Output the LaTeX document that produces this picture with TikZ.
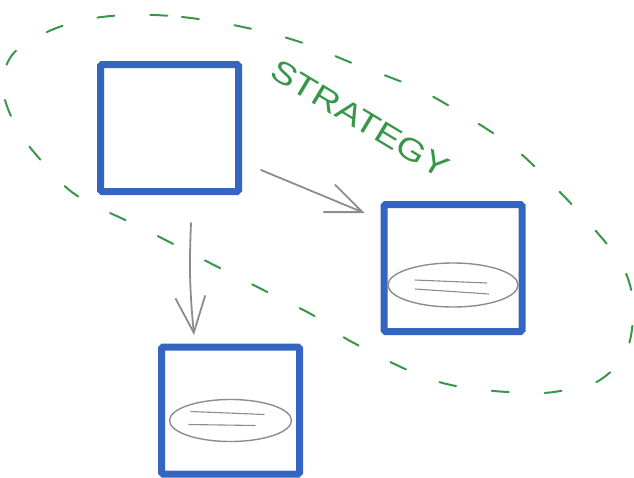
\documentclass[tikz,border=0pt]{standalone}
\usepackage{fontspec}
\newfontfamily\sketchfont{Liberation Sans}
\usetikzlibrary{arrows.meta}

\definecolor{boxblue}{RGB}{52,101,192}
\definecolor{sketchgray}{RGB}{140,140,140}
\definecolor{groupgreen}{RGB}{56,150,72}

\begin{document}
\begin{tikzpicture}[x=1pt, y=-1pt,
	box/.style={draw=boxblue, line width=7pt, rectangle, rounded corners=1.5pt, minimum width=138pt, minimum height=127pt, inner sep=0pt},
	flow/.style={draw=sketchgray, line width=1.8pt, line cap=round, -{Straight Barb[length=36pt,width=30pt]}},
	blob/.style={draw=sketchgray, line width=1.4pt},
	group/.style={draw=groupgreen, line width=2pt, line cap=round, dash pattern=on 17pt off 36pt}]

	\useasboundingbox (0,0) rectangle (634,477);

	% Strategy box and its two results
	\node (strategy) at (169.5,128) [box] {};
	\node (result right) at (453,268) [box] {};
	\node (result down) at (230.5,410.5) [box] {};

	% Data blobs inside the results
	\coordinate (blob right) at ([yshift=-17pt]result right.center);
	\coordinate (blob down) at ([yshift=-10pt]result down.center);

	\draw [blob] (blob right) ellipse [x radius=65pt, y radius=22pt];
	\draw [blob, line width=1.1pt] (blob right) +(-38,-5) -- +(34,-2);
	\draw [blob, line width=1.1pt] (blob right) +(-38,4) -- +(36,9);

	\draw [blob] (blob down) ellipse [x radius=61pt, y radius=21pt];
	\draw [blob, line width=1.1pt] (blob down) +(-40,-9) -- +(34,-6);
	\draw [blob, line width=1.1pt] (blob down) +(-42,4) -- +(25,5);

	% Arrows
	\draw [flow] ([xshift=19pt,yshift=-42pt]strategy.east) -- ([xshift=-16pt,yshift=55pt]result right.west);
	\draw [flow] ([xshift=21.5pt,yshift=-28pt]strategy.south) to[bend right=4] ([xshift=-36.5pt,yshift=8.5pt]result down.north);

	% Strategy group
	\draw [group] plot [smooth cycle, tension=0.6] coordinates {
		(125,15) (182,17) (243,27) (300,42) (352,63) (409,85) (451,107) (510,145)
		(551,183) (595,230) (623,267) (633,305) (627,350) (603,378) (575,388)
		(528,393) (439,382) (352,342) (316,317) (283,300) (210,263) (142,228)
		(79,197) (47,167) (18,130) (3,90) (10,58) (35,38) (75,22)};

	\node (strategy label) at (360,119) [rotate=-31, text=groupgreen, font=\sketchfont\fontsize{31}{31}\selectfont] {\scalebox{1.22}[1]{STRATEGY}};

\end{tikzpicture}
\end{document}
